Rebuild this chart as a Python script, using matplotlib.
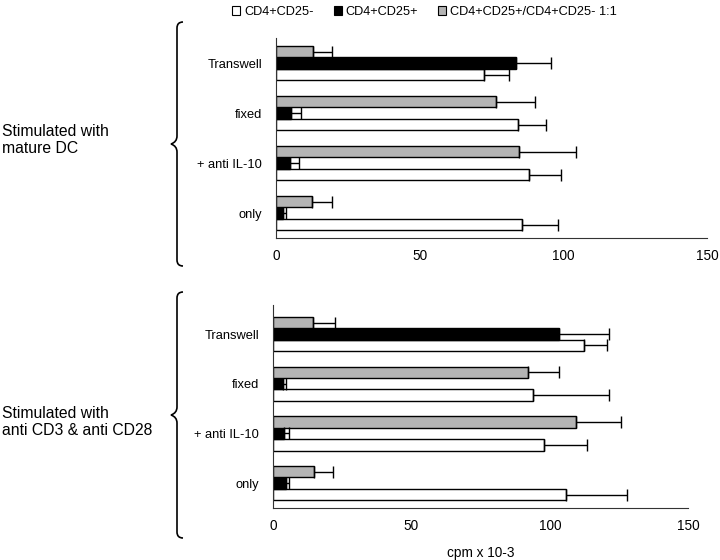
import matplotlib.pyplot as plt
import numpy as np
from matplotlib.patches import Patch, PathPatch
from matplotlib.path import Path

plt.rcParams['font.family'] = ['Liberation Sans', 'DejaVu Sans']

# categories, top to bottom
conditions = ["Transwell", "fixed", "+ anti IL-10", "only"]
series = ["CD4+CD25-", "CD4+CD25+", "CD4+CD25+/CD4+CD25- 1:1"]
colors = ["white", "black", "#b4b4b4"]

groups = ["Stimulated with\nmature DC", "Stimulated with\nanti CD3 & anti CD28"]

# mature DC panel
dc_neg = [72.3, 84.1, 88.1, 85.7]
dc_neg_err = [8.7, 10.0, 11.2, 12.4]
dc_pos = [83.5, 5.2, 5.0, 2.4]
dc_pos_err = [12.2, 3.5, 3.2, 1.1]
dc_mix = [13.1, 76.7, 84.6, 12.5]
dc_mix_err = [6.4, 13.3, 19.8, 7.0]

# anti CD3 / CD28 panel
cd_neg = [112.4, 93.9, 98.0, 105.7]
cd_neg_err = [8.1, 27.6, 15.3, 22.3]
cd_pos = [103.4, 3.5, 4.1, 4.6]
cd_pos_err = [18.1, 1.4, 1.8, 1.3]
cd_mix = [14.6, 92.2, 109.3, 14.9]
cd_mix_err = [7.8, 11.1, 16.3, 6.9]

panels = [
    ([dc_neg, dc_pos, dc_mix], [dc_neg_err, dc_pos_err, dc_mix_err]),
    ([cd_neg, cd_pos, cd_mix], [cd_neg_err, cd_pos_err, cd_mix_err]),
]

fig = plt.figure(figsize=(7.2, 5.6), dpi=100)
ax_rects = [[0.383, 0.575, 0.599, 0.357], [0.379, 0.093, 0.577, 0.362]]
ylims = [(-0.5, 3.5), (-0.5, 3.58)]

pos = np.arange(len(conditions))[::-1]
h = 0.23
offsets = [-h, 0, h]

for i, (vals, errs) in enumerate(panels):
    ax = fig.add_axes(ax_rects[i])
    for k in range(3):
        ax.barh(pos + offsets[k], vals[k], height=h, color=colors[k],
                edgecolor="black", linewidth=1)
        ax.errorbar(vals[k], pos + offsets[k],
                    xerr=[np.zeros(len(vals[k])), errs[k]],
                    fmt="none", ecolor="black", elinewidth=1, capsize=4, capthick=1)
    ax.set_xlim(0, 150)
    ax.set_ylim(*ylims[i])
    ax.set_xticks([0, 50, 100, 150])
    ax.set_yticks(pos)
    ax.set_yticklabels(conditions, fontsize=9.3)
    ax.tick_params(length=0, pad=10)
    ax.tick_params(axis="x", pad=8, labelsize=9.8)
    for s in ["top", "right"]:
        ax.spines[s].set_visible(False)
    ax.spines["left"].set_color("#333333")
    ax.spines["bottom"].set_color("#333333")
    if i == 1:
        ax.set_xlabel("cpm x 10-3", fontsize=9.8, labelpad=9)


def brace(x_tip, x_end, y_top, y_bot):
    W, H = 720.0, 560.0
    ym = (y_top + y_bot) / 2
    xm = (x_tip + x_end) / 2
    pts = [
        (x_end, y_top), (xm, y_top), (xm, y_top + 6),
        (xm, ym - 8), (xm, ym - 2), (x_tip, ym),
        (xm, ym + 2), (xm, ym + 8),
        (xm, y_bot - 6), (xm, y_bot), (x_end, y_bot),
    ]
    codes = [Path.MOVETO, Path.CURVE3, Path.CURVE3, Path.LINETO,
             Path.CURVE3, Path.CURVE3, Path.CURVE3, Path.CURVE3,
             Path.LINETO, Path.CURVE3, Path.CURVE3]
    verts = [(x / W, 1 - y / H) for x, y in pts]
    fig.add_artist(PathPatch(Path(verts, codes), transform=fig.transFigure,
                             fill=False, lw=1.2, edgecolor="black"))


brace(171, 183, 22, 266)
brace(171, 183, 292, 538)

fig.text(0.003, 1 - 140 / 560, groups[0], fontsize=11.3, va="center", ha="left",
         linespacing=1.15)
fig.text(0.003, 1 - 422 / 560, groups[1], fontsize=11.3, va="center", ha="left",
         linespacing=1.15)

handles = [Patch(facecolor=c, edgecolor="black", linewidth=0.8) for c in colors]
fig.legend(handles, series, loc="center", bbox_to_anchor=(0.5896, 1 - 12 / 560),
           ncol=3, frameon=False, fontsize=9.2, handlelength=0.62,
           handleheight=0.62, handletextpad=0.31, columnspacing=1.56,
           borderaxespad=0)

fig.savefig("out.png", dpi=100)
